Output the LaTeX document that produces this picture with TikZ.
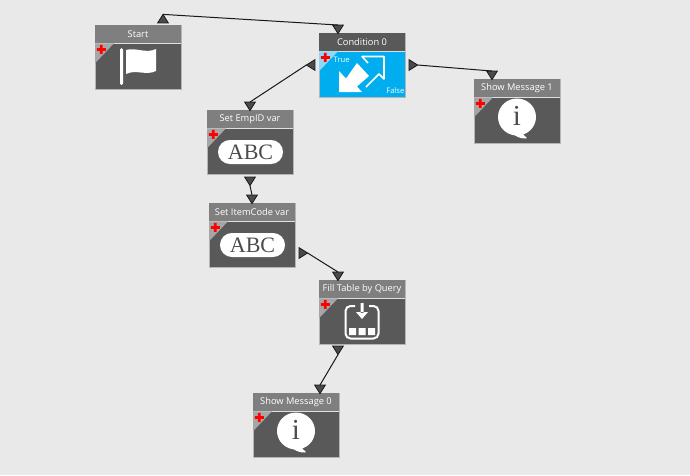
\documentclass[tikz,border=0pt]{standalone}
\usepackage{fontspec}
\setmainfont{Open Sans}
\newfontfamily\abcfont{Liberation Serif}
\usetikzlibrary{shapes.geometric}
\definecolor{canvas}{HTML}{E9E9E9}
\definecolor{bodygray}{HTML}{595959}
\definecolor{headgray}{HTML}{7F7F7F}
\definecolor{cornergray}{HTML}{A6A6A6}
\definecolor{condblue}{HTML}{00AEEF}
\definecolor{condcorner}{HTML}{8FD8F5}
\definecolor{edgegray}{HTML}{B5B5B5}
\definecolor{portgray}{HTML}{4A4A4A}
\tikzset{
  x=1pt,y=-1pt,
  block/.style={draw=edgegray,line width=.8pt,minimum width=86pt,minimum height=64pt,inner sep=0pt,outer sep=0pt,anchor=north west},
  title/.style={text=white,font=\fontsize{9.3}{11}\selectfont,inner sep=0pt,anchor=center},
  port/.style={isosceles triangle,isosceles triangle apex angle=64,draw=black!90,fill=portgray,line width=.8pt,minimum height=8.6pt,inner sep=0pt,outer sep=0pt},
  portdown/.style={port,shape border rotate=270},
  portup/.style={port,shape border rotate=90},
  portleft/.style={port,shape border rotate=180},
  portright/.style={port,shape border rotate=0},
  link/.style={draw=black!90,line width=1pt},
  small/.style={text=white,font=\fontsize{7.6}{9}\selectfont,inner sep=0pt}
}
% Common frame of a block: body, title bar, corner tab and red plus.
\newcommand{\blockframe}[7]{% name, x, y, body, head, corner, title
  \node[block,fill=#4] (#1) at (#2,#3) {};
  \fill[#5] (#2,#3) rectangle ++(86,18);
  \draw[white!75!gray,line width=.5pt] (#2,#3+18) -- ++(86,0);
  \fill[#6] (#2,#3+18.3) -- ++(19,0) -- ++(-19,20) -- cycle;
  \fill[red] (#2+1.8,#3+23) rectangle ++(9,2.8) (#2+4.9,#3+19.9) rectangle ++(2.8,9);
  \node[title] (#1title) at (#2+43,#3+9) {#7};
}
% Speech balloon with a serif letter i.
\newcommand{\infoicon}[2]{%
  \begin{scope}[shift={(#1,#2)}]
    \fill[white] (43,38) circle[x radius=19,y radius=18.5];
    \fill[white] (38,54) .. controls (42,57) and (44,59.5) .. (52,59.5) .. controls (53,59.5) and (53,58.5) .. (52,58) .. controls (49,56) and (48,54) .. (49,50) -- cycle;
    \node[text=black!70,font=\abcfont\fontsize{29}{29}\selectfont,inner sep=0pt] (#1info) at (43,37) {i};
  \end{scope}}
% White pill carrying the ABC label.
\newcommand{\abcicon}[2]{%
  \begin{scope}[shift={(#1,#2)}]
    \fill[white,rounded corners=11.9pt] (11,30) rectangle (76,54);
    \node[text=black!70,font=\abcfont\fontsize{22}{22}\selectfont,inner sep=0pt] (#1abc) at (43.5,42) {ABC};
  \end{scope}}
\begin{document}
\begin{tikzpicture}
\useasboundingbox (0,0) rectangle (690,475);
\fill[canvas] (0,0) rectangle (690,475);

\blockframe{start}{95}{25}{bodygray}{headgray}{cornergray}{Start}
\blockframe{cond}{319}{33}{condblue}{bodygray}{condcorner}{Condition 0}
\blockframe{msgone}{474}{79}{bodygray}{headgray}{cornergray}{Show Message 1}
\blockframe{emp}{207}{110}{bodygray}{headgray}{cornergray}{Set EmpID var}
\blockframe{item}{209}{203}{bodygray}{headgray}{cornergray}{Set ItemCode var}
\blockframe{fill}{319}{280}{bodygray}{headgray}{cornergray}{Fill Table by Query}
\blockframe{msgzero}{253}{393}{bodygray}{headgray}{cornergray}{Show Message 0}

% Flag
\fill[white,rounded corners=1.5pt] (120,48) rectangle (123,85);
\fill[white] (126,50) .. controls (136,47) and (146,54) .. (156,49) -- (156,71) .. controls (146,76) and (136,69) .. (126,74) -- cycle;

% Branch arrows of the condition block
\fill[white] (339,71) -- (346,78.5) -- (357,63) -- (369,76) -- (357,86.5) -- (362,92) -- (339,92) -- cycle;
\draw[white,line width=1.6pt,line join=round] (366,87) -- (379,74) -- (384,79) -- (384,56.5) -- (362,56.5) -- (368,63);
\node[small,anchor=west] (condtrue) at (333.5,59.5) {True};
\node[small,anchor=east] (condfalse) at (404.5,90.5) {False};

\infoicon{474}{79}
\infoicon{253}{393}
\abcicon{207}{110}
\abcicon{209}{203}

% Import-to-table icon
\draw[white,line width=2pt,rounded corners=5pt] (355,306) -- (345.5,306) -- (345.5,338.5) -- (378.5,338.5) -- (378.5,306) -- (369,306);
\fill[white] (360.5,303) rectangle (363.5,313) (356,312) -- (368,312) -- (362,319) -- cycle;
\fill[white] (349,328) rectangle ++(7,7) (358.5,328) rectangle ++(7,7) (368,328) rectangle ++(7,7);

% Ports
\node[portup] (startout) at (163,20) {};
\node[portdown] (condin) at (338,28) {};
\node[portleft] (condtrueout) at (312,65) {};
\node[portright] (condfalseout) at (412,65) {};
\node[portdown] (msgonein) at (492,74) {};
\node[portdown] (empin) at (250,105) {};
\node[portdown] (empout) at (250,180) {};
\node[portdown] (itemin) at (252,198) {};
\node[portright] (itemout) at (302,253) {};
\node[portdown] (fillin) at (338,275) {};
\node[portdown] (fillout) at (338,349) {};
\node[portdown] (msgzeroin) at (320,388) {};

% Connectors
\draw[link] (startout.apex) -- (condin.lower side);
\draw[link] (condtrueout.apex) -- (empin.lower side);
\draw[link] (condfalseout.apex) -- (msgonein.lower side);
\draw[link] (empout.apex) -- (itemin.lower side);
\draw[link] (itemout.apex) -- (fillin.lower side);
\draw[link] (fillout.apex) -- (msgzeroin.lower side);
\end{tikzpicture}
\end{document}
